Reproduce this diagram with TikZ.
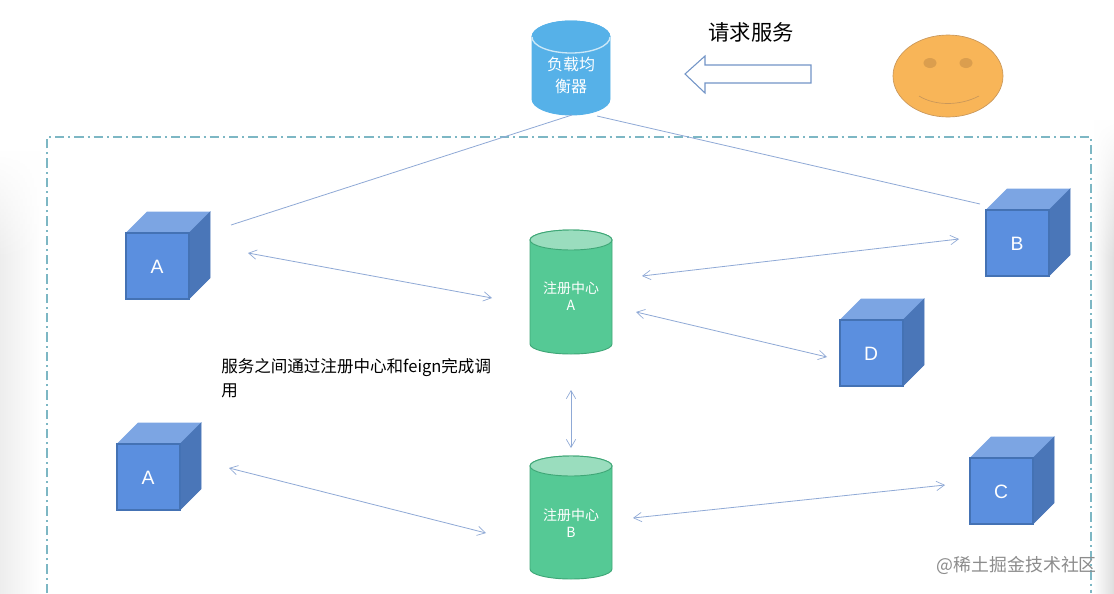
\documentclass[tikz,border=0pt]{standalone}
\usepackage{fontspec}
\setmainfont{Liberation Sans}
\newfontfamily\cjk{Noto Sans CJK SC}
\usetikzlibrary{arrows.meta,fadings}
\definecolor{cubeF}{HTML}{5B8FDF}
\definecolor{cubeT}{HTML}{7CA5E3}
\definecolor{cubeS}{HTML}{4A76B8}
\definecolor{cubeE}{HTML}{4472B4}
\definecolor{lbblue}{HTML}{56B1E8}
\definecolor{greenB}{HTML}{55C995}
\definecolor{greenT}{HTML}{9ADDBE}
\definecolor{greenE}{HTML}{3FA777}
\definecolor{linkc}{HTML}{8FA9D6}
\definecolor{boxc}{HTML}{7DB7C4}
\definecolor{smileF}{HTML}{F8B558}
\definecolor{smileE}{HTML}{C9975A}
\definecolor{smileD}{HTML}{DB9E4E}
\tikzset{
  link/.style={draw=linkc,line width=0.6pt},
  biarrow/.style={link,{Straight Barb[length=6pt,width=7pt,line width=.5pt]}-{Straight Barb[length=6pt,width=7pt,line width=.5pt]}},
  cubelabel/.style={text=white,font=\fontsize{14.5}{16}\selectfont,inner sep=0pt},
  cyllabel/.style={text=white,align=center,inner sep=0pt},
  blacktext/.style={text=black,inner sep=0pt},
}
% name, front-left x, front-top y, label
\newcommand{\cubeshape}[4]{%
  \fill[cubeT,draw=cubeT,line width=.5pt] (#2,#3) -- ++(21,-21) -- ++(63,0) -- ++(-21,21) -- cycle;
  \fill[cubeS,draw=cubeS,line width=.5pt] (#2+63,#3) -- ++(21,-21) -- ++(0,66) -- ++(-21,21) -- cycle;
  \fill[cubeF,draw=cubeE,line width=.8pt] (#2,#3) rectangle ++(63,66);
  \node[cubelabel] (#1) at (#2+31,#3+34) {#4};
}
% name, cx, top, bottom, rx, ry, body, top colour, edge
\newcommand{\cylshape}[9]{%
  \fill[#7,draw=#9,line width=.7pt] (#2-#5,#3+#6) -- (#2-#5,#4-#6) arc[start angle=180,end angle=0,x radius=#5,y radius=#6] -- (#2+#5,#3+#6) arc[start angle=0,end angle=-180,x radius=#5,y radius=#6] -- cycle;
  \fill[#8,draw=#9,line width=.7pt] (#2,#3+#6) ellipse[x radius=#5,y radius=#6];
}
\begin{document}
\begin{tikzpicture}[x=0.75pt,y=-0.75pt]
\useasboundingbox (0,0) rectangle (1114,593);
\fill[white] (0,0) rectangle (1114,593);
% soft edge shading
\shade[left color=black!7,right color=white] (0,150) rectangle (42,593);
\shade[left color=white,right color=black!13] (1093,120) rectangle (1114,593);
\fill[white,path fading=south] (0,150) rectangle (42,260);
\fill[white,path fading=south] (1093,120) rectangle (1114,260);
% frame
\draw[boxc,line width=1pt,dash pattern=on 7pt off 3pt on 1.5pt off 3pt] (47,593) -- (47,137) -- (1091,137) -- (1091,593);
% load balancer
\cylshape{lb}{571}{21}{115}{39}{16}{lbblue}{lbblue}{lbblue}
\draw[white!70!lbblue,line width=1pt] (532,37) arc[start angle=180,end angle=0,x radius=39,y radius=16];
\node[cyllabel,font=\cjk\fontsize{12}{16.5}\selectfont] (lb) at (571,75) {负载均\\衡器};
% registries
\cylshape{ra}{571}{230}{354}{41}{10}{greenB}{greenT}{greenE}
\node[cyllabel,font=\cjk\fontsize{10.5}{13}\selectfont] (ra) at (571,296) {注册中心\\A};
\cylshape{rb}{571}{456}{579}{41}{10}{greenB}{greenT}{greenE}
\node[cyllabel,font=\cjk\fontsize{10.5}{13}\selectfont] (rb) at (571,523) {注册中心\\B};
% cubes
\cubeshape{a1}{126}{233}{A}
\cubeshape{b}{986}{210}{B}
\cubeshape{d}{840}{320}{D}
\cubeshape{a2}{117}{444}{A}
\cubeshape{c}{970}{458}{C}
% request arrow
\draw[draw=cubeE!75!white,fill=white,line width=.8pt] (685,74) -- (705,56) -- (705,65) -- (811,65) -- (811,83) -- (705,83) -- (705,93) -- cycle;
\node[blacktext,font=\cjk\fontsize{16}{18}\selectfont] (req) at (751,32) {请求服务};
% smiley
\draw[draw=smileE,fill=smileF,line width=.5pt] (948,76) ellipse[x radius=55,y radius=41];
\fill[smileD] (930,63) ellipse[x radius=6.5,y radius=5];
\fill[smileD] (966,63) ellipse[x radius=6.5,y radius=5];
\draw[smileE,line width=.5pt] (919,96) .. controls (935,106) and (960,106) .. (979,96);
% connector end points
\coordinate (lbl) at (572,115); \coordinate (a1r) at (231,225);
\coordinate (lbr) at (597,116); \coordinate (bl) at (980,204);
\coordinate (a1e) at (248,253); \coordinate (rae1) at (492,298);
\coordinate (rae2) at (642,276); \coordinate (be) at (959,239);
\coordinate (rae3) at (636,312); \coordinate (de) at (827,357);
\coordinate (rae4) at (571,390); \coordinate (rbe4) at (571,448);
\coordinate (a2e) at (229,468); \coordinate (rbe1) at (486,533);
\coordinate (rbe2) at (633,518); \coordinate (ce) at (945,485);
\draw[link] (lbl) -- (a1r);
\draw[link] (lbr) -- (bl);
\draw[biarrow] (a1e) -- (rae1);
\draw[biarrow] (rae2) -- (be);
\draw[biarrow] (rae3) -- (de);
\draw[biarrow] (rae4) -- (rbe4);
\draw[biarrow] (a2e) -- (rbe1);
\draw[biarrow] (rbe2) -- (ce);
% caption
\node[blacktext,anchor=north west,align=left,font=\cjk\fontsize{12.4}{18}\selectfont] (cap) at (221,358) {服务之间通过注册中心和feign完成调\\用};
% watermark
\node[inner sep=0pt,text=black!45,anchor=east,font=\cjk\fontsize{13.4}{15}\selectfont] (wm) at (1097,565) {@稀土掘金技术社区};
\end{tikzpicture}
\end{document}
